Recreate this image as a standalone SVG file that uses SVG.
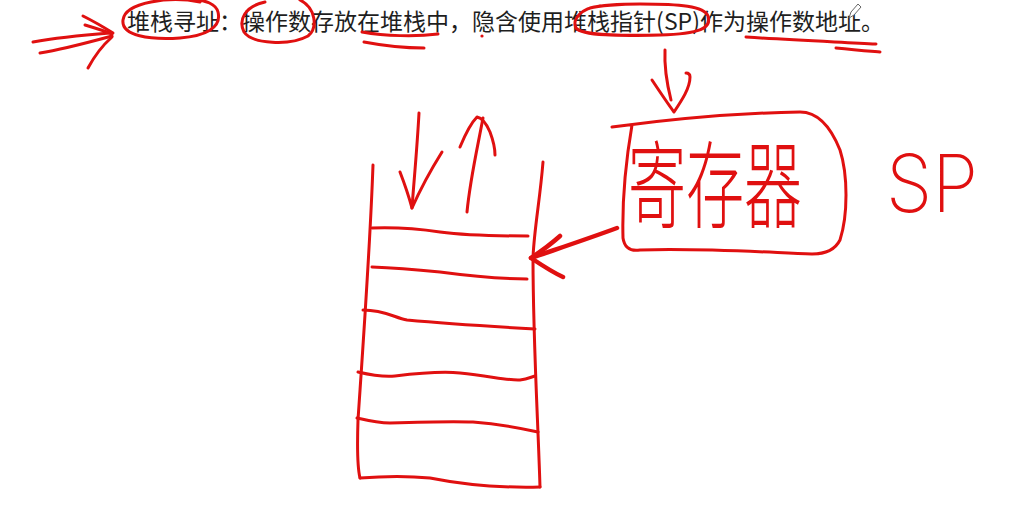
<svg xmlns="http://www.w3.org/2000/svg" width="1024" height="508" viewBox="0 0 1024 508">
<style>
.ink{fill:none;stroke:#e01010;stroke-width:3;stroke-linecap:round;stroke-linejoin:round}
.thick{stroke-width:4.5}
.title{font-family:"Noto Sans CJK SC","Noto Sans",sans-serif;font-size:23px;fill:#1e1e1e}
.hand{font-family:"Noto Sans CJK SC","Noto Sans",sans-serif;fill:#e01010;font-weight:300}
.hand2{font-family:Inter,"Liberation Sans",sans-serif;fill:#e01010;font-weight:200}
</style>
<rect width="1024" height="508" fill="#fff"/>
<g id="title-text">
<text class="title" x="127" y="30" textLength="757" lengthAdjust="spacing">堆栈寻址：操作数存放在堆栈中，隐含使用堆栈指针(SP)作为操作数地址。</text>
</g>
<g id="annotations">
<path class="ink" d="M33 42 C55 38 85 35 110 33"/>
<path class="ink" d="M40 53 C60 50 90 42 112 36"/>
<path class="ink" d="M83 16 C95 22 105 28 113 33"/>
<path class="ink" d="M85 25 C95 28 105 31 112 34"/>
<path class="ink" d="M88 68 C95 55 103 45 112 37"/>
<path class="ink" d="M200 2 C170 -4 125 2 123 20 C121 36 150 40 180 38 C205 36 222 28 218 12 C216 4 205 0 195 0"/>
<path class="ink" d="M265 2 C245 6 238 20 244 32 C252 44 290 46 308 36 C318 28 316 8 300 0"/>
<path class="ink" d="M362 32 C385 36 415 37 438 34"/>
<path class="ink" d="M364 42 C385 46 405 48 424 48"/>
<circle cx="482" cy="36" r="1.6" fill="#e01010"/>
<path class="ink" d="M600 6 C580 8 572 20 576 28 C582 36 620 36 660 35 C700 34 712 28 708 16 C704 6 680 4 640 4 C620 4 598 6 590 8"/>
<path class="ink" d="M746 37 C790 40 840 42 876 44"/>
<path class="ink" d="M836 48 C855 50 868 51 880 52"/>
<path d="M849 18 L851 12 L858 4 L861 7 L854 15 Z" fill="#fff" stroke="#666" stroke-width="1"/>
</g>
<g id="connectors">
<path class="ink" d="M665 50 C664 70 668 88 671 100"/>
<path class="ink" d="M652 80 C660 92 668 104 674 112 C682 100 690 88 690 77 C690 74 688 73 686 73"/>
<path class="ink thick" d="M617 228 C590 238 560 248 531 258"/>
<path class="ink thick" d="M560 236 C550 245 540 252 531 258 C540 264 552 272 563 277"/>
<path class="ink" d="M419 113 C417 150 414 180 412 208"/>
<path class="ink" d="M400 172 C405 185 409 197 412 208 C420 190 432 168 442 152"/>
<path class="ink" d="M467 212 C470 180 477 150 483 118"/>
<path class="ink" d="M460 147 C465 135 472 122 477 117 C482 118 487 125 490 132 C493 140 495 148 495 155"/>
</g>
<g id="register">
<path class="ink" d="M612 127 C680 118 740 113 800 112 C820 112 832 130 840 150 C848 175 848 215 840 240 C835 250 825 254 812 254 C760 252 700 248 640 250 C628 252 624 245 623 238 C622 200 626 160 632 125"/>
<text class="hand" transform="translate(628,221) scale(1,1.65)" x="0" y="0" font-size="58">寄存器</text>
</g>
<g id="sp-label">
<text class="hand2" x="886" y="212" font-size="80" textLength="92" lengthAdjust="spacingAndGlyphs">SP</text>
</g>
<g id="stack">
<path class="ink" d="M373 165 C370 250 362 360 358 420 C357 450 358 470 360 478"/>
<path class="ink" d="M360 478 C385 476 410 476 430 478 C460 484 500 488 540 487"/>
<path class="ink" d="M543 162 C540 200 534 230 533 258 C533 340 538 420 540 487"/>
<path class="ink" d="M372 228 C400 227 420 229 440 232 C470 236 500 236 528 236"/>
<path class="ink" d="M372 267 C400 268 420 270 440 272 C470 276 500 279 527 279"/>
<path class="ink" d="M363 310 C385 310 395 318 407 320 C450 324 500 327 535 329"/>
<path class="ink" d="M358 372 C375 376 385 377 395 376 C420 373 440 371 460 373 C490 376 510 381 520 380 C528 379 531 377 535 376"/>
<path class="ink" d="M357 418 C370 421 380 423 390 423 C420 422 450 421 473 422 C500 424 520 428 538 432"/>
</g>
</svg>
